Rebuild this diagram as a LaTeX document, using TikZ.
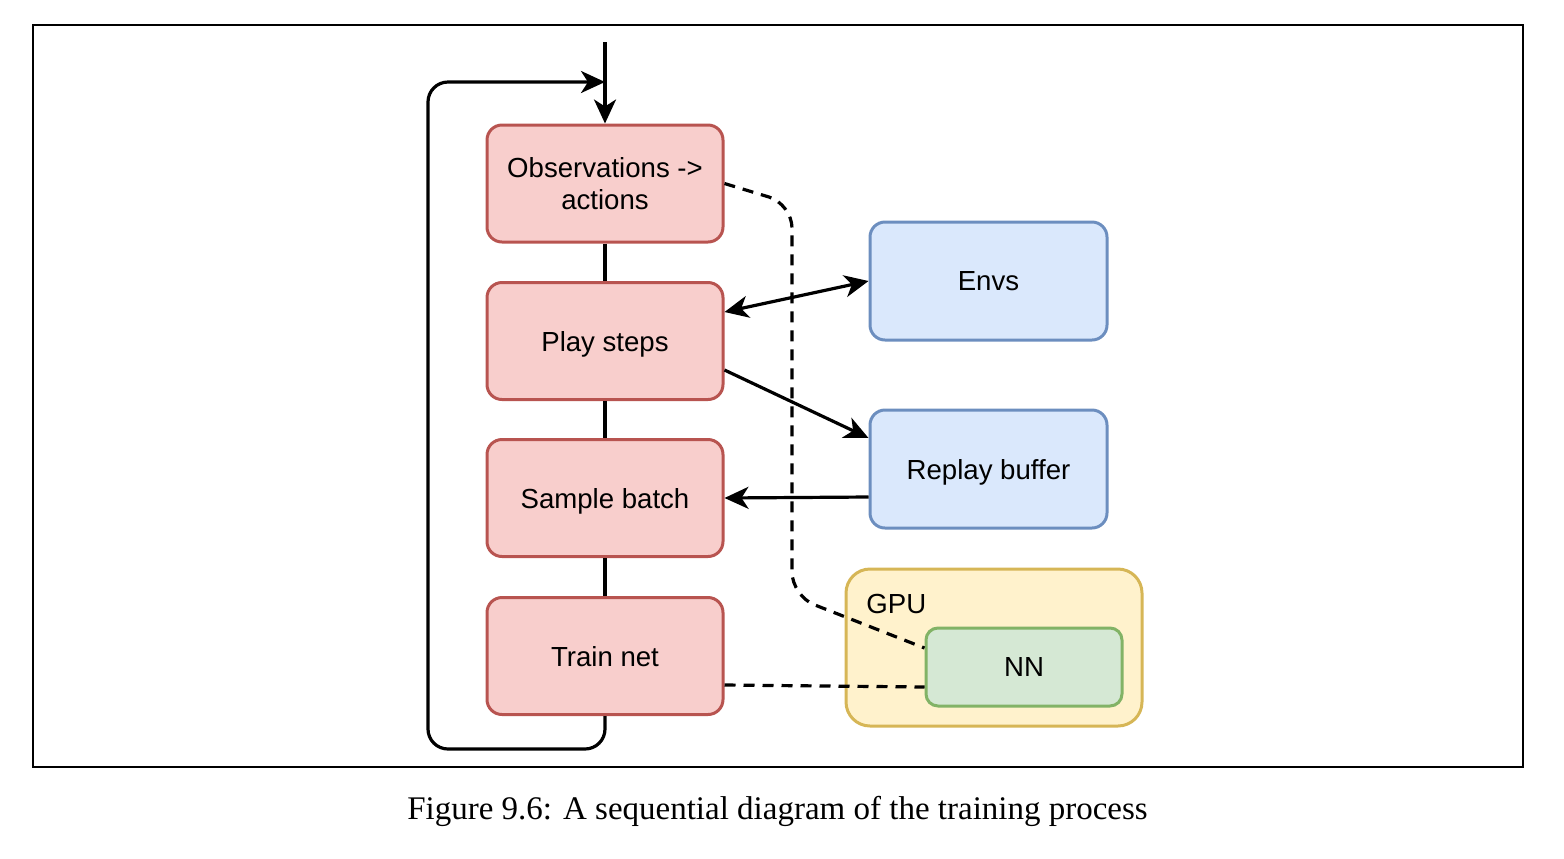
\documentclass[tikz,border=0pt]{standalone}
\usepackage{fontspec}
\setmainfont{Liberation Serif}
\newfontfamily\boxfont{Liberation Sans}
\usetikzlibrary{arrows.meta}
\definecolor{redfill}{HTML}{F8CECC}
\definecolor{redline}{HTML}{B85450}
\definecolor{bluefill}{HTML}{DAE8FC}
\definecolor{blueline}{HTML}{6C8EBF}
\definecolor{yelfill}{HTML}{FFF2CC}
\definecolor{yelline}{HTML}{D6B656}
\definecolor{grnfill}{HTML}{D5E8D4}
\definecolor{grnline}{HTML}{82B366}
\tikzset{
  boxtext/.style={font=\boxfont\fontsize{13.8}{16}\selectfont, text depth=0pt},
  redbox/.style={draw=redline, fill=redfill, line width=1.5pt, rounded corners=7.5pt,
    minimum width=118pt, minimum height=58.5pt, align=center, inner sep=0pt, boxtext},
  bluebox/.style={draw=blueline, fill=bluefill, line width=1.5pt, rounded corners=7.5pt,
    minimum width=118.5pt, minimum height=59pt, align=center, inner sep=0pt, boxtext},
  gpubox/.style={draw=yelline, fill=yelfill, line width=1.5pt, rounded corners=12pt,
    minimum width=148pt, minimum height=78.5pt, inner sep=0pt},
  nnbox/.style={draw=grnline, fill=grnfill, line width=1.5pt, rounded corners=6pt,
    minimum width=98pt, minimum height=39pt, inner sep=0pt, boxtext},
  conn/.style={line width=1.6pt, black},
  arr/.style={conn, -{Stealth[length=12pt,width=11pt,inset=3.5pt]}},
  dualarr/.style={conn, {Stealth[length=12pt,width=11pt,inset=3.5pt]}-{Stealth[length=12pt,width=11pt,inset=3.5pt]}},
  dashconn/.style={line width=1.6pt, black, dash pattern=on 5.5pt off 4pt},
}
\begin{document}
\begin{tikzpicture}[x=0.5pt,y=-0.5pt]
\useasboundingbox (0,0) rectangle (1564,858);
\node[draw, line width=1pt, minimum width=745pt, minimum height=371pt, inner sep=0pt] (frame) at (778,396) {};

\node[gpubox] (gpu) at (994,647.5) {};
\node[anchor=west, inner sep=0pt, boxtext] (gpulabel) at (866,604) {GPU};
\node[nnbox] (nn) at (1024,667) {NN};

\node[redbox] (obs) at (605,183.5) {Observations ->\\actions};
\node[redbox] (play) at (605,341) {Play steps};
\node[redbox] (sample) at (605,498) {Sample batch};
\node[redbox] (train) at (605,656) {Train net};

\node[bluebox] (envs) at (988.5,281) {Envs};
\node[bluebox] (replay) at (988.5,469) {Replay buffer};

\coordinate (start) at (605,42);
\coordinate (loopin) at (605,82);

\draw[conn] (obs.south) -- (play.north);
\draw[conn] (play.south) -- (sample.north);
\draw[conn] (sample.south) -- (train.north);

\draw[arr] (start) -- (obs.north);
\draw[arr, rounded corners=10pt] (train.south) -- (605,749) -- (428,749) -- (428,82) -- (loopin);

\draw[dualarr] ([yshift=14.5pt]play.east) -- (envs.west);
\draw[arr] ([yshift=-14.5pt]play.east) -- ([yshift=15.5pt]replay.west);
\draw[arr] ([yshift=-14pt]replay.west) -- (sample.east);

\draw[dashconn, rounded corners=12pt] (obs.east) -- (792,204) -- (792,596) -- ([yshift=9.5pt]nn.west);
\draw[dashconn] ([yshift=-14.5pt]train.east) -- ([yshift=-10pt]nn.west);

\node[font=\fontsize{16.5}{19}\selectfont, inner sep=0pt] (caption) at (777.5,811) {Figure 9.6: A sequential diagram of the training process};
\end{tikzpicture}
\end{document}
